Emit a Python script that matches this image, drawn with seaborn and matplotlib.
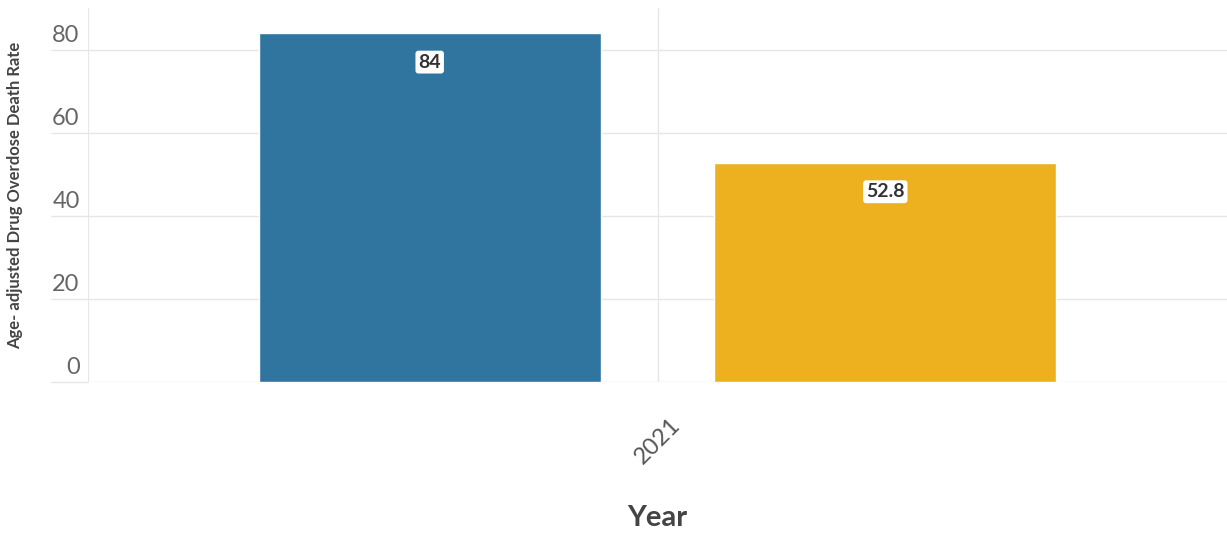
import seaborn as sns
import matplotlib.pyplot as plt
import matplotlib.transforms as mtransforms
import pandas as pd

sns.set_theme(style="whitegrid")
plt.rcParams['font.family'] = ['Lato', 'DejaVu Sans']

# data
years = ['2021', '2021']
groups = ['County', 'State']
rates = [84, 52.8]
colors = ['#2f75a0', '#edb11f']

df = pd.DataFrame({'Year': years, 'Group': groups, 'Rate': rates})

fig = plt.figure(figsize=(12.27, 5.35), dpi=100)
ax = fig.add_axes([88 / 1227, (535 - 382) / 535, 1 - 88 / 1227, (382 - 8) / 535])

sns.barplot(data=df, x='Year', y='Rate', hue='Group', palette=colors,
            width=0.8, gap=0.25, saturation=1, legend=False, ax=ax)

ax.set_ylim(0, 90)
ax.set_xlim(-0.5, 0.5)
ax.set_yticks([0, 20, 40, 60, 80])

for s in ax.spines.values():
    s.set_visible(False)
ax.grid(True, axis='both', color='#e6e6e6', linewidth=1)
ax.axvline(-0.5, color='#e6e6e6', linewidth=1.5, zorder=0)
ax.set_axisbelow(True)

# y ticks: long light tick reaching under the label, label sitting above the line
ax.tick_params(axis='y', length=27, color='#e6e6e6', width=1, pad=-21,
               labelsize=17, labelcolor='#666666', left=True)
lift = mtransforms.ScaledTranslation(0, 4 / 100, fig.dpi_scale_trans)
for lab in ax.get_yticklabels():
    lab.set_va('bottom')
    lab.set_ha('right')
    lab.set_transform(lab.get_transform() + lift)

ax.tick_params(axis='x', length=0, pad=23, labelsize=17, labelcolor='#555555')
plt.setp(ax.get_xticklabels(), rotation=45, ha='center')

ax.set_xlabel('Year', fontsize=21, fontweight='bold', color='#444444')
ax.xaxis.set_label_coords(0.5, -0.33)
ax.set_ylabel('Age- adjusted Drug Overdose Death Rate', fontsize=12,
              fontweight='bold', color='#444444', labelpad=20)

for p, v in zip(ax.patches, rates):
    ax.annotate(f'{v:g}', (p.get_x() + p.get_width() / 2, p.get_height()),
                xytext=(0, -21), textcoords='offset points', ha='center', va='center',
                fontsize=14, fontweight='bold', color='#333333',
                bbox=dict(boxstyle='round,pad=0.15', fc='white', ec='none'))

fig.savefig('out.png', dpi=100)
